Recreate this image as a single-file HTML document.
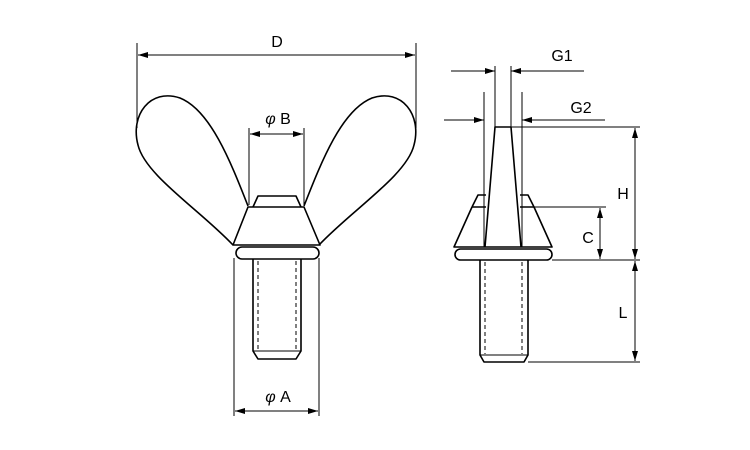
<!DOCTYPE html>
<html><head><meta charset="utf-8"><style>html,body{margin:0;padding:0;background:#fff}svg{display:block}</style></head><body>
<svg width="750" height="450" viewBox="0 0 750 450" xmlns="http://www.w3.org/2000/svg">
<defs>
<marker id="a" viewBox="0 0 10 6" refX="10" refY="3" markerWidth="10" markerHeight="6" orient="auto-start-reverse" markerUnits="userSpaceOnUse"><path d="M0,0 L10,3 L0,6 z" fill="#000"/></marker>
</defs>
<g fill="none" stroke="#000" stroke-width="1.6" stroke-linejoin="round">
<!-- wings -->
<path d="M248,206 C230,160 210,110 180,98 C150,88 130,115 138,145 C145,175 200,210 233,245"/>
<path d="M304,206 C322,160 342,110 372,98 C402,88 422,115 414,145 C407,175 352,210 319,245"/>
<!-- cap and cone -->
<path d="M253,207 L258,196 L296,196 L301,207"/>
<path d="M248,207 L304,207 L320,245 L233,245 Z" fill="#fff"/>
<rect x="236" y="247" width="83" height="12" rx="6"/>
<path d="M253,259 L253,351 L258,359 L296,359 L301,351 L301,259"/>
<line x1="253" y1="351" x2="301" y2="351" stroke-width="1"/>
<!-- right view -->
<path d="M485,247 L495,127 L511,127 L521,247"/>
<path d="M472,207 L478,195 L486,195"/>
<path d="M520,195 L528,195 L534,207"/>
<path d="M472,207 L486,207 M520,207 L534,207 L552,247 L454,247 L472,207"/>
<rect x="455" y="249" width="97" height="11" rx="5.5"/>
<path d="M480,260 L480,355 L484,362 L524,362 L528,355 L528,260"/>
<line x1="480" y1="355" x2="528" y2="355" stroke-width="1"/>
</g>
<g stroke="#000" stroke-width="1" stroke-dasharray="4,3">
<line x1="258" y1="261" x2="258" y2="350"/><line x1="296" y1="261" x2="296" y2="350"/>
<line x1="485" y1="262" x2="485" y2="354"/><line x1="522" y1="262" x2="522" y2="354"/>
</g>
<g stroke="#000" stroke-width="1" fill="none">
<!-- D -->
<line x1="137" y1="43" x2="137" y2="128"/><line x1="416" y1="43" x2="416" y2="128"/>
<line x1="138" y1="55" x2="415" y2="55" marker-start="url(#a)" marker-end="url(#a)"/>
<!-- B -->
<line x1="249" y1="128" x2="249" y2="205"/><line x1="304" y1="128" x2="304" y2="205"/>
<line x1="250" y1="134" x2="303" y2="134" marker-start="url(#a)" marker-end="url(#a)"/>
<!-- A -->
<line x1="234" y1="258" x2="234" y2="416"/><line x1="319" y1="258" x2="319" y2="416"/>
<line x1="235" y1="411" x2="318" y2="411" marker-start="url(#a)" marker-end="url(#a)"/>
<!-- G1 -->
<line x1="495" y1="66" x2="495" y2="127"/><line x1="511" y1="66" x2="511" y2="127"/>
<line x1="451" y1="71" x2="495" y2="71" marker-end="url(#a)"/>
<line x1="584" y1="71" x2="511" y2="71" marker-end="url(#a)"/>
<!-- G2 -->
<line x1="484" y1="92" x2="484" y2="247"/><line x1="522" y1="92" x2="522" y2="247"/>
<line x1="444" y1="120" x2="484" y2="120" marker-end="url(#a)"/>
<line x1="605" y1="120" x2="522" y2="120" marker-end="url(#a)"/>
<!-- H -->
<line x1="511" y1="127" x2="640" y2="127"/><line x1="552" y1="260" x2="640" y2="260"/>
<line x1="635" y1="128" x2="635" y2="259" marker-start="url(#a)" marker-end="url(#a)"/>
<!-- C -->
<line x1="534" y1="207" x2="606" y2="207"/>
<line x1="600" y1="208" x2="600" y2="259" marker-start="url(#a)" marker-end="url(#a)"/>
<!-- L -->
<line x1="528" y1="362" x2="640" y2="362"/>
<line x1="635" y1="261" x2="635" y2="361" marker-start="url(#a)" marker-end="url(#a)"/>
</g>
<g font-family="Liberation Sans, sans-serif" font-size="16" fill="#000" text-anchor="middle">
<text x="277" y="47">D</text>
<text x="278" y="124"><tspan font-style="italic">φ</tspan> B</text>
<text x="278" y="402"><tspan font-style="italic">φ</tspan> A</text>
<text x="562" y="61">G1</text>
<text x="581" y="113">G2</text>
<text x="623" y="199">H</text>
<text x="588" y="243">C</text>
<text x="623" y="318">L</text>
</g>
</svg>
</body></html>
